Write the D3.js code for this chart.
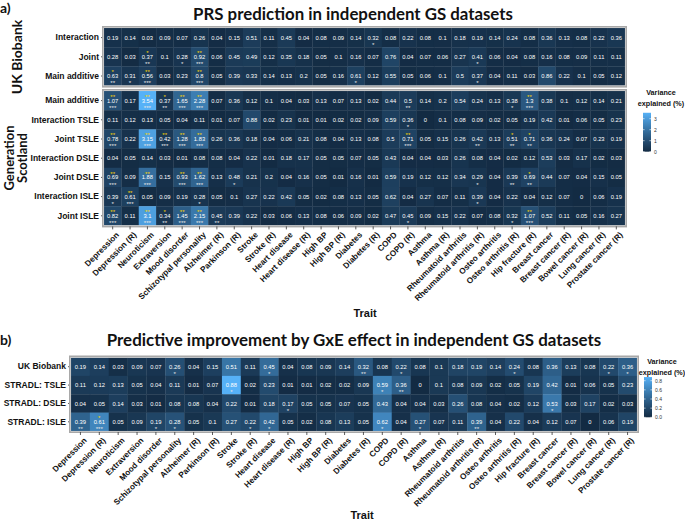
<!DOCTYPE html>
<html><head><meta charset="utf-8">
<script src="https://cdn.jsdelivr.net/npm/d3@7"></script>
<style>body{margin:0;background:#fff}</style>
</head><body><svg id="c" width="685" height="522"></svg>
<script>
const traits = ["Depression","Depression (R)","Neuroticism","Extraversion","Mood disorder","Schizotypal personality","Alzheimer (R)","Parkinson (R)","Stroke","Stroke (R)","Heart disease","Heart disease (R)","High BP","High BP (R)","Diabetes","Diabetes (R)","COPD","COPD (R)","Asthma","Asthma (R)","Rheumatoid arthritis","Rheumatoid arthritis (R)","Osteo arthritis","Osteo arthritis (R)","Hip fracture (R)","Breast cancer","Breast cancer (R)","Bowel cancer (R)","Lung cancer (R)","Prostate cancer (R)"];

// Panel a) UK Biobank
const ukbRowLabels = ["Interaction","Joint","Main additive"];
const ukbInteraction = [0.19,0.14,0.03,0.09,0.07,0.26,0.04,0.15,0.51,0.11,0.45,0.04,0.08,0.09,0.14,0.32,0.08,0.22,0.08,0.1,0.18,0.19,0.14,0.24,0.08,0.36,0.13,0.08,0.22,0.36];
const ukbJoint = [0.28,0.03,0.37,0.1,0.28,0.92,0.06,0.45,0.49,0.12,0.35,0.18,0.05,0.1,0.16,0.07,0.76,0.04,0.07,0.06,0.27,0.41,0.06,0.04,0.08,0.16,0.08,0.09,0.11,0.11];
const ukbMain = [0.63,0.31,0.56,0.03,0.23,0.8,0.05,0.39,0.33,0.14,0.13,0.2,0.05,0.16,0.61,0.12,0.55,0.05,0.06,0.1,0.5,0.37,0.04,0.11,0.03,0.86,0.22,0.1,0.05,0.12];
// significance marks: [column index, stars]
const ukbInteractionHi = [];
const ukbInteractionLo = [[15,"*"]];
const ukbJointHi = [[2,"*"],[5,"**"]];
const ukbJointLo = [[2,"**"],[4,"*"],[5,"***"],[21,"*"]];
const ukbMainHi = [[0,"*"],[2,"**"],[5,"**"]];
const ukbMainLo = [[0,"**"],[1,"*"],[2,"***"],[5,"***"],[14,"*"],[21,"*"]];

// Panel a) Generation Scotland
const gsRowLabels = ["Main additive","Interaction TSLE","Joint TSLE","Interaction DSLE","Joint DSLE","Interaction ISLE","Joint ISLE"];
const gsMain = [1.07,0.17,3.54,0.37,1.65,2.28,0.07,0.36,0.12,0.1,0.04,0.03,0.13,0.07,0.13,0.02,0.44,0.5,0.14,0.2,0.54,0.24,0.13,0.38,1.3,0.38,0.1,0.12,0.14,0.21];
const gsIntTSLE = [0.11,0.12,0.13,0.05,0.04,0.11,0.01,0.07,0.88,0.02,0.23,0.01,0.01,0.02,0.02,0.09,0.59,0.36,0,0.1,0.08,0.09,0.02,0.05,0.19,0.42,0.01,0.06,0.05,0.23];
const gsJointTSLE = [0.78,0.22,3.15,0.42,1.28,1.83,0.26,0.36,0.18,0.04,0.06,0.21,0.08,0.04,0.13,0.08,0.5,0.71,0.05,0.15,0.26,0.42,0.13,0.51,0.71,0.36,0.24,0.07,0.23,0.19];
const gsIntDSLE = [0.04,0.05,0.14,0.03,0.01,0.08,0.08,0.04,0.22,0.01,0.18,0.17,0.05,0.05,0.07,0.05,0.43,0.04,0.04,0.03,0.26,0.08,0.04,0.02,0.12,0.53,0.03,0.17,0.02,0.03];
const gsJointDSLE = [0.69,0.09,1.88,0.15,0.93,1.62,0.13,0.48,0.21,0.2,0.04,0.16,0.05,0.01,0.16,0.01,0.59,0.19,0.12,0.12,0.34,0.29,0.04,0.39,0.69,0.44,0.07,0.04,0.15,0.05];
const gsIntISLE = [0.39,0.61,0.05,0.09,0.19,0.28,0.05,0.1,0.27,0.22,0.42,0.05,0.02,0.08,0.13,0.05,0.62,0.04,0.27,0.07,0.11,0.39,0.04,0.22,0.04,0.12,0.07,0,0.06,0.19];
const gsJointISLE = [0.82,0.11,3.1,0.34,1.45,2.15,0.45,0.39,0.22,0.03,0.06,0.13,0.08,0.06,0.09,0.02,0.47,0.45,0.09,0.15,0.22,0.07,0.08,0.32,1.07,0.52,0.11,0.05,0.16,0.27];
const gsMainHi = [[0,"**"],[2,"**"],[3,"*"],[4,"**"],[5,"**"],[24,"**"]];
const gsMainLo = [[0,"***"],[2,"***"],[3,"**"],[4,"***"],[5,"***"],[17,"**"],[23,"*"],[24,"***"]];
const gsIntTSLEHi = [];
const gsIntTSLELo = [[17,"*"]];
const gsJointTSLEHi = [[0,"**"],[2,"**"],[3,"**"],[4,"**"],[5,"**"],[17,"**"],[23,"*"],[24,"*"]];
const gsJointTSLELo = [[0,"***"],[2,"***"],[3,"***"],[4,"***"],[5,"***"],[17,"***"],[21,"**"],[23,"**"],[24,"**"]];
const gsIntDSLEHi = [];
const gsIntDSLELo = [];
const gsJointDSLEHi = [[0,"**"],[2,"**"],[4,"**"],[5,"**"],[24,"*"]];
const gsJointDSLELo = [[0,"***"],[2,"***"],[4,"***"],[5,"***"],[7,"*"],[21,"*"],[23,"**"],[24,"**"]];
const gsIntISLEHi = [[1,"**"]];
const gsIntISLELo = [[0,"*"],[1,"***"],[5,"*"],[21,"*"]];
const gsJointISLEHi = [[0,"**"],[2,"**"],[3,"*"],[4,"**"],[5,"**"],[24,"**"]];
const gsJointISLELo = [[0,"***"],[2,"***"],[3,"**"],[4,"***"],[5,"***"],[6,"**"],[17,"*"],[23,"*"],[24,"***"]];

// Panel b) GxE improvement
const bRowLabels = ["UK Biobank","STRADL: TSLE","STRADL: DSLE","STRADL: ISLE"];
const bUKB = ukbInteraction;
const bTSLE = gsIntTSLE;
const bDSLE = gsIntDSLE;
const bISLE = gsIntISLE;
const bUKBHi = [];
const bUKBLo = [[5,"*"],[10,"*"],[15,"**"],[17,"*"],[23,"*"],[28,"*"],[29,"*"]];
const bTSLEHi = [];
const bTSLELo = [[8,"*"],[16,"*"],[17,"**"]];
const bDSLEHi = [];
const bDSLELo = [[11,"*"],[25,"*"]];
const bISLEHi = [[1,"*"]];
const bISLELo = [[0,"**"],[1,"***"],[4,"*"],[5,"*"],[9,"*"],[10,"*"],[16,"*"],[18,"*"],[21,"**"]];

const legendTicksA = [0,1,2,3];
const legendTicksB = [0,0.2,0.4,0.6,0.8];

const titleA = "PRS prediction in independent GS datasets";
const titleB = "Predictive improvement by GxE effect in independent GS datasets";

// ---------- drawing ----------
const svg = d3.select("#c");
svg.append("rect").attr("width",685).attr("height",522).attr("fill","#fff");
const AX = "'Liberation Sans', Arial, Helvetica, sans-serif";
const TF = "Lato, 'Open Sans', sans-serif";
const LOW = "#132B43", HIGH = "#56B1F7";

function rowsOf(labels, vals, his, los){
  return labels.map((l,i)=>({label:l, values:vals[i], hi:his[i], lo:los[i]}));
}

function fitWidth(sel, w){
  const n = sel.node(); const l = n.getComputedTextLength();
  const fs = parseFloat(sel.attr("font-size"));
  sel.attr("font-size", fs*w/l);
}

function drawFacet(g, rows, x, y, color, vfs){
  const cells = [];
  rows.forEach(r => r.values.forEach((v,i)=>cells.push({row:r.label, trait:traits[i], v})));
  g.selectAll("rect.cell").data(cells).join("rect").attr("class","cell")
    .attr("x", d=>x(d.trait)).attr("y", d=>y(d.row))
    .attr("width", x.bandwidth()+0.3).attr("height", y.bandwidth()+0.3)
    .attr("fill", d=>color(d.v));
  g.selectAll("text.val").data(cells).join("text").attr("class","val")
    .attr("x", d=>x(d.trait)+x.bandwidth()/2)
    .attr("y", d=>y(d.row)+y.bandwidth()/2 + vfs*0.36)
    .attr("text-anchor","middle").attr("font-family",AX).attr("font-size",vfs)
    .attr("fill","#fff").text(d=>String(d.v));
  const hi=[], lo=[];
  rows.forEach(r=>{
    r.hi.forEach(([i,s])=>hi.push({row:r.label, trait:traits[i], s}));
    r.lo.forEach(([i,s])=>lo.push({row:r.label, trait:traits[i], s}));
  });
  g.selectAll("text.hi").data(hi).join("text").attr("class","hi")
    .attr("x", d=>x(d.trait)+x.bandwidth()/2)
    .attr("y", d=>y(d.row)+y.bandwidth()/2 - 1.9)
    .attr("text-anchor","middle").attr("font-family",AX).attr("font-size",6.2)
    .attr("fill","#FFD700").text(d=>d.s);
  g.selectAll("text.lo").data(lo).join("text").attr("class","lo")
    .attr("x", d=>x(d.trait)+x.bandwidth()/2)
    .attr("y", d=>y(d.row)+y.bandwidth()/2 + 9.1)
    .attr("text-anchor","middle").attr("font-family",AX).attr("font-size",6.2)
    .attr("fill","#e6e6e6").text(d=>d.s);
  // row axis
  const ax = g.append("g").attr("transform",`translate(${x.range()[0]},0)`)
    .call(d3.axisLeft(y).tickSize(3).tickPadding(2));
  ax.select(".domain").remove();
  ax.selectAll("line").attr("stroke","#333").attr("stroke-width",0.8);
  ax.selectAll("text").attr("font-family",AX).attr("font-weight","bold")
    .attr("font-size",8.5).attr("fill","#111");
  // border
  const [x0,x1] = x.range(), [y0,y1] = y.range();
  g.append("rect").attr("x",x0-1).attr("y",y0-1).attr("width",x1-x0+2).attr("height",y1-y0+2)
    .attr("fill","none").attr("stroke","#a8a8a8").attr("stroke-width",2);
  g.append("rect").attr("x",x0-0.2).attr("y",y0-0.2).attr("width",x1-x0+0.4).attr("height",y1-y0+0.4)
    .attr("fill","none").attr("stroke","#e8e8e8").attr("stroke-width",0.5);
}

function drawTraitAxis(g, x, yb, fs){
  const ax = g.append("g").attr("transform",`translate(0,${yb+1})`)
    .call(d3.axisBottom(x).tickSize(3).tickPadding(2));
  ax.select(".domain").remove();
  ax.selectAll("line").attr("stroke","#333").attr("stroke-width",0.8);
  ax.selectAll("text").attr("font-family",AX).attr("font-weight","bold")
    .attr("font-size",fs).attr("fill","#111")
    .attr("text-anchor","end").attr("dy",null).attr("y",null)
    .attr("transform","translate(3,5) rotate(-45)")
    .attr("dominant-baseline","hanging");
}

function drawLegend(g, color, ticks, maxv, bx, by0, by1, ty){
  const id = "grad"+Math.round(maxv*100);
  const grad = svg.append("defs").append("linearGradient").attr("id",id)
    .attr("x1",0).attr("y1",1).attr("x2",0).attr("y2",0);
  d3.range(0,1.0001,0.05).forEach(t=>grad.append("stop").attr("offset",t).attr("stop-color",color(t*maxv)));
  g.append("text").attr("x",bx+18).attr("y",ty).attr("text-anchor","middle")
    .attr("font-family",AX).attr("font-weight","bold").attr("font-size",7.2).attr("fill","#111").text("Variance");
  g.append("text").attr("x",bx+18).attr("y",ty+10.5).attr("text-anchor","middle")
    .attr("font-family",AX).attr("font-weight","bold").attr("font-size",7.2).attr("fill","#111").text("explained (%)");
  const ls = d3.scaleLinear().domain([0,maxv]).range([by0,by1]);
  g.append("rect").attr("x",bx).attr("y",by1).attr("width",8).attr("height",by0-by1).attr("fill",`url(#${id})`);
  ticks.forEach(t=>{
    g.append("line").attr("x1",bx).attr("x2",bx+1.6).attr("y1",ls(t)).attr("y2",ls(t)).attr("stroke","#fff").attr("stroke-width",0.6);
    g.append("line").attr("x1",bx+6.4).attr("x2",bx+8).attr("y1",ls(t)).attr("y2",ls(t)).attr("stroke","#fff").attr("stroke-width",0.6);
    g.append("text").attr("x",bx+11).attr("y",ls(t)+1.8).attr("font-family",AX).attr("font-size",5)
      .attr("fill","#333").text(d3.format(ticks[1]<1?".1f":"d")(t));
  });
}

// ===== Panel a =====
const gA = svg.append("g");
const xA = d3.scaleBand().domain(traits).range([104,625]);
const maxA = d3.max([...ukbInteraction,...ukbJoint,...ukbMain,...gsMain,...gsIntTSLE,...gsJointTSLE,...gsIntDSLE,...gsJointDSLE,...gsIntISLE,...gsJointISLE]);
const colA = d3.scaleLinear().domain([0,maxA]).range([LOW,HIGH]).interpolate(d3.interpolateLab);
const yUKB = d3.scaleBand().domain(ukbRowLabels).range([28,85.6]);
const yGS = d3.scaleBand().domain(gsRowLabels).range([91,225.4]);
drawFacet(gA.append("g"), rowsOf(ukbRowLabels,[ukbInteraction,ukbJoint,ukbMain],[ukbInteractionHi,ukbJointHi,ukbMainHi],[ukbInteractionLo,ukbJointLo,ukbMainLo]), xA, yUKB, colA, 5.8);
drawFacet(gA.append("g"), rowsOf(gsRowLabels,[gsMain,gsIntTSLE,gsJointTSLE,gsIntDSLE,gsJointDSLE,gsIntISLE,gsJointISLE],
  [gsMainHi,gsIntTSLEHi,gsJointTSLEHi,gsIntDSLEHi,gsJointDSLEHi,gsIntISLEHi,gsJointISLEHi],
  [gsMainLo,gsIntTSLELo,gsJointTSLELo,gsIntDSLELo,gsJointDSLELo,gsIntISLELo,gsJointISLELo]), xA, yGS, colA, 5.8);
drawTraitAxis(gA, xA, 225.4, 8.2);
gA.append("text").attr("x",365).attr("y",317).attr("text-anchor","middle").attr("font-family",AX)
  .attr("font-weight","bold").attr("font-size",11).attr("fill","#111").text("Trait");
const tA = gA.append("text").attr("x",353).attr("y",20).attr("text-anchor","middle").attr("font-family",TF)
  .attr("font-weight","bold").attr("font-size",16).attr("fill","#111").text(titleA);
fitWidth(tA, 320);
gA.append("text").attr("x",0).attr("y",13).attr("font-family",TF).attr("font-weight","bold")
  .attr("font-size",14).attr("fill","#111").text("a)");
gA.append("text").attr("transform","translate(22,57) rotate(-90)").attr("text-anchor","middle")
  .attr("font-family",TF).attr("font-weight","bold").attr("font-size",14).attr("fill","#111").text("UK Biobank");
gA.append("text").attr("transform","translate(13.5,158) rotate(-90)").attr("text-anchor","middle")
  .attr("font-family",TF).attr("font-weight","bold").attr("font-size",13).attr("fill","#111").text("Generation");
gA.append("text").attr("transform","translate(27,158) rotate(-90)").attr("text-anchor","middle")
  .attr("font-family",TF).attr("font-weight","bold").attr("font-size",13).attr("fill","#111").text("Scotland");
drawLegend(gA, colA, legendTicksA, maxA, 643, 151.7, 151.7-maxA*11, 95);

// ===== Panel b =====
const gB = svg.append("g");
const xB = d3.scaleBand().domain(traits).range([71,637]);
const yB = d3.scaleBand().domain(bRowLabels).range([357.5,431]);
const maxB = d3.max([...bUKB,...bTSLE,...bDSLE,...bISLE]);
const colB = d3.scaleLinear().domain([0,maxB]).range([LOW,HIGH]).interpolate(d3.interpolateLab);
drawFacet(gB.append("g"), rowsOf(bRowLabels,[bUKB,bTSLE,bDSLE,bISLE],[bUKBHi,bTSLEHi,bDSLEHi,bISLEHi],[bUKBLo,bTSLELo,bDSLELo,bISLELo]), xB, yB, colB, 5.8);
drawTraitAxis(gB, xB, 431, 8.2);
gB.append("text").attr("x",362).attr("y",519).attr("text-anchor","middle").attr("font-family",AX)
  .attr("font-weight","bold").attr("font-size",11).attr("fill","#111").text("Trait");
const tB = gB.append("text").attr("x",354).attr("y",346).attr("text-anchor","middle").attr("font-family",TF)
  .attr("font-weight","bold").attr("font-size",16).attr("fill","#111").text(titleB);
fitWidth(tB, 495);
gB.append("text").attr("x",0).attr("y",345).attr("font-family",TF).attr("font-weight","bold")
  .attr("font-size",14).attr("fill","#111").text("b)");
drawLegend(gB, colB, legendTicksB, maxB, 644, 417.3, 417.3-maxB*45.75, 364);
</script></body></html>
